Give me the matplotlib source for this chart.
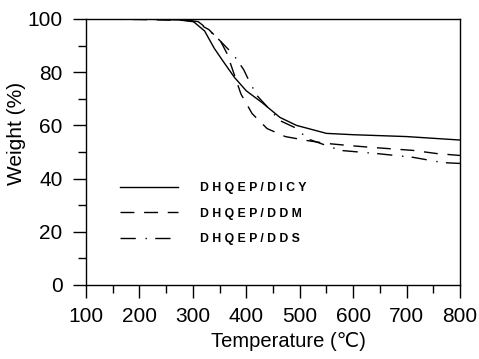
import matplotlib
matplotlib.use("Agg")
import matplotlib.pyplot as plt
from matplotlib.ticker import MultipleLocator

plt.rcParams['font.family'] = ['Liberation Sans', 'DejaVu Sans']

# DHQEP/DICY (solid)
t_dicy = [100, 200, 280, 300, 322, 340, 357, 378, 400, 430, 463, 494, 550, 600, 700, 800]
w_dicy = [100, 100, 99.6, 99.2, 95.5, 89, 84, 78, 73, 68.5, 63, 60, 57, 56.5, 55.8, 54.5]

# DHQEP/DDM (dashed)
t_ddm = [100, 200, 280, 304, 330, 352, 364, 390, 411, 439, 473, 514, 551, 594, 637, 712, 757, 800]
w_ddm = [100, 99.8, 99.5, 98.9, 96, 91.6, 87, 71.8, 64.4, 58.8, 55.8, 54.3, 53.2, 52.4, 51.7, 50.6, 49.4, 48.7]

# DHQEP/DDS (dash-dot)
t_dds = [100, 200, 280, 310, 329, 350, 376, 395, 407, 421, 463, 495, 514, 576, 645, 712, 768, 800]
w_dds = [100, 100, 99.8, 99, 96, 92, 86.6, 81, 76, 71, 61.8, 58.8, 55, 50.6, 49.4, 48, 46, 45.7]

labels = ["D H Q E P / D I C Y", "D H Q E P / D D M", "D H Q E P / D D S"]
x_ticks = [100, 200, 300, 400, 500, 600, 700, 800]
y_ticks = [0, 20, 40, 60, 80, 100]

fig = plt.figure(figsize=(4.79, 3.59), dpi=100)
ax = fig.add_axes([86/479, (359-285)/359, (460-86)/479, (285-19)/359])

ax.plot(t_dicy, w_dicy, color='black', lw=1.0, ls='-', label=labels[0])
ax.plot(t_ddm, w_ddm, color='black', lw=1.0, ls=(0, (10, 7)), label=labels[1])
ax.plot(t_dds, w_dds, color='black', lw=1.0, ls=(0, (11, 7, 1, 6)), label=labels[2])

ax.set_xlim(100, 800)
ax.set_ylim(0, 100)
ax.set_xticks(x_ticks)
ax.set_yticks(y_ticks)
ax.xaxis.set_minor_locator(MultipleLocator(50))
ax.yaxis.set_minor_locator(MultipleLocator(10))
ax.tick_params(which='major', direction='out', length=9.5, width=1.0, labelsize=15)
ax.tick_params(axis='x', which='major', pad=6)
ax.tick_params(axis='y', which='major', pad=7.5)
ax.tick_params(which='minor', direction='out', length=6, width=1.0)
for s in ax.spines.values():
    s.set_linewidth(1.0)

ax.set_xlabel("Temperature (℃)", fontsize=14.5)
ax.xaxis.set_label_coords(0.54, -0.178)
ax.set_ylabel("Weight (%)", fontsize=15)
ax.yaxis.set_label_coords(-0.16, 0.571)

leg = ax.legend(loc='upper left', bbox_to_anchor=(0.091, 0.387), frameon=False,
                handlelength=4.75, handletextpad=1.8, labelspacing=1.1,
                borderpad=0, borderaxespad=0,
                prop={'size': 8.8, 'weight': 'bold'})

fig.savefig("out.png", dpi=100)
